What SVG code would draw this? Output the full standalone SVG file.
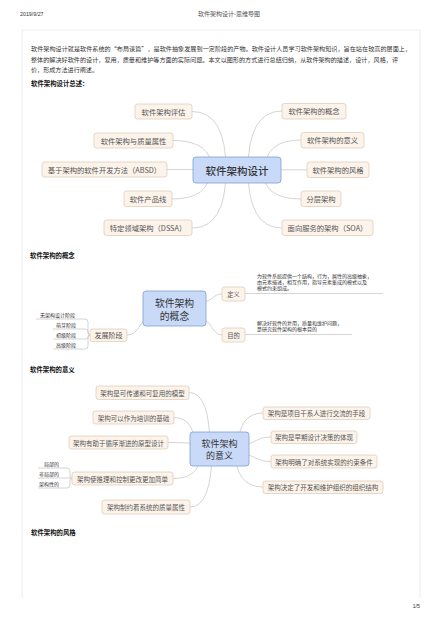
<svg xmlns="http://www.w3.org/2000/svg" width="440" height="620" viewBox="0 0 440 620">
<style>
text{font-family:"Noto Sans CJK SC","Noto Sans",sans-serif;}
.hdr{font-size:5.3px;fill:#333;font-family:"Liberation Sans","Noto Sans CJK SC",sans-serif;}
.ttl{font-size:6px;fill:#555;}
.para{font-size:6.1px;fill:#333;}
.h{font-size:6.4px;fill:#111;font-weight:bold;}
.node rect{fill:#fcf3ea;stroke:#dcc6b2;stroke-width:0.7;}
.node text{fill:#555;text-anchor:middle;dominant-baseline:central;}
.n1 text{font-size:7.3px;}
.n3 text{font-size:6.5px;}
.center rect{fill:#c9daf8;stroke:#7f9fd2;stroke-width:0.8;}
.center text{fill:#333;text-anchor:middle;dominant-baseline:central;}
.conn path{fill:none;stroke:#c9c9c9;stroke-width:0.8;}
.small{font-size:5px;fill:#333;}
.frame{fill:none;stroke:#e8e8e8;stroke-width:0.8;}
</style>

<!-- page header -->
<text class="hdr" x="20" y="16">2019/9/27</text>
<text class="ttl" x="229" y="16" text-anchor="middle">软件架构设计-思维导图</text>
<path class="frame" d="M22,598 V30 H420 V598"/>

<!-- intro -->
<text class="para" x="31" y="51" textLength="380" lengthAdjust="spacing">软件架构设计就是软件系统的“布局谋篇”，是软件抽象发展到一定阶段的产物。软件设计人员学习软件架构知识，旨在站在较高的层面上，</text>
<text class="para" x="31" y="61.5" textLength="367" lengthAdjust="spacing">整体的解决好软件的设计，复用，质量和维护等方面的实际问题。本文以图形的方式进行总结归纳，从软件架构的描述，设计，风格，评</text>
<text class="para" x="31" y="72">价，形成方法进行阐述。</text>
<text class="h" x="31" y="86">软件架构设计总述：</text>

<!-- ===== Map 1 connectors ===== -->
<g id="connectors" class="conn">
  <path d="M226,170 Q226,111.5 192,111.5"/>
  <path d="M212,170 Q212,140.5 173,140.5"/>
  <path d="M200,169.5 L167,169.5"/>
  <path d="M210,170 Q210,199 172,199"/>
  <path d="M226,170 Q226,228 192,228"/>
  <path d="M248,170 Q248,111 282,111"/>
  <path d="M265,170 Q265,140 301,140"/>
  <path d="M275,169.8 L307,169.8"/>
  <path d="M263,170 Q263,199 301,199"/>
  <path d="M248,170 Q248,228 282,228"/>

  <!-- Map 2 -->
  <path d="M200,302 C214,302 212,294 222,294"/>
  <path d="M245,293.5 L383,293.5"/>
  <path d="M200,318 C212,320 212,335 222,335"/>
  <path d="M245,334.5 L352,334.5"/>
  <path d="M150,318 C138,320 140,335 127,335"/>
  <path d="M36,319 H85 Q88,319 88,322 V332 Q88,335 90,335"/>
  <path d="M53,329 H85 Q88,329 88,332 Q88,335 90,335"/>
  <path d="M53,339 H85 Q88,339 88,337 Q88,335 90,335"/>
  <path d="M53,349 H85 Q88,349 88,346 V338 Q88,335 90,335"/>

  <!-- Map 3 -->
  <path d="M210,449 Q210,392.5 189,392.5"/>
  <path d="M195,449 Q195,417.5 174,417.5"/>
  <path d="M200,444 C190,443 180,442.5 168,442.5"/>
  <path d="M200,455 Q200,478.5 173,478.5"/>
  <path d="M212,449 Q212,507 190,507"/>
  <path d="M238,449 Q238,413 263,413"/>
  <path d="M240,445 C255,445 255,437 271,437"/>
  <path d="M240,454 C255,454 255,461.5 271,461.5"/>
  <path d="M235,449 Q235,487 263,487"/>
  <path d="M38,468 H67 Q70,468 70,471 V476 Q70,478.5 72,478.5"/>
  <path d="M38,478 H72"/>
  <path d="M38,488 H67 Q70,488 70,485 V481 Q70,478.5 72,478.5"/>
</g>

<!-- ===== Map 1 nodes ===== -->
<g id="map1-center" class="center"><rect x="193" y="157" width="88" height="26" rx="3"/><text x="237" y="170" style="font-size:10.5px;font-weight:500">软件架构设计</text></g>
<g id="n-pinggu" class="node n1"><rect x="135" y="104" width="57" height="15" rx="2.5"/><text x="163.5" y="111.5">软件架构评估</text></g>
<g id="n-zhiliang" class="node n1"><rect x="94" y="133" width="79" height="15" rx="2.5"/><text x="133.5" y="140.5">软件架构与质量属性</text></g>
<g id="n-absd" class="node n1"><rect x="42" y="162" width="125" height="15" rx="2.5"/><text x="104.5" y="169.5">基于架构的软件开发方法（ABSD）</text></g>
<g id="n-chanpin" class="node n1"><rect x="124" y="191" width="48" height="15.5" rx="2.5"/><text x="148" y="198.8">软件产品线</text></g>
<g id="n-dssa" class="node n1"><rect x="104" y="220" width="88" height="15.5" rx="2.5"/><text x="148" y="227.8">特定领域架构（DSSA）</text></g>
<g id="n-gainian" class="node n1"><rect x="282" y="103.5" width="64" height="15.5" rx="2.5"/><text x="314" y="111.2">软件架构的概念</text></g>
<g id="n-yiyi" class="node n1"><rect x="301" y="132.5" width="63" height="15.5" rx="2.5"/><text x="332.5" y="140.2">软件架构的意义</text></g>
<g id="n-fengge" class="node n1"><rect x="307" y="162" width="62" height="15.5" rx="2.5"/><text x="338" y="169.8">软件架构的风格</text></g>
<g id="n-fenceng" class="node n1"><rect x="301" y="191" width="40" height="15.5" rx="2.5"/><text x="321" y="198.8">分层架构</text></g>
<g id="n-soa" class="node n1"><rect x="282" y="220" width="91" height="15.5" rx="2.5"/><text x="327.5" y="227.8">面向服务的架构（SOA）</text></g>

<!-- ===== Map 2 ===== -->
<text class="h" x="30" y="258">软件架构的概念</text>
<g id="map2-center" class="center"><rect x="143" y="291" width="63" height="35" rx="3"/><text x="174.5" y="303" style="font-size:9.8px">软件架构</text><text x="174.5" y="315.5" style="font-size:9.8px">的概念</text></g>
<g id="n-dingyi" class="node"><rect x="222" y="287" width="23" height="14" rx="2.5"/><text x="233.5" y="294" style="font-size:6.3px">定义</text></g>
<g id="n-mudi" class="node"><rect x="222" y="328" width="23" height="14" rx="2.5"/><text x="233.5" y="335" style="font-size:6.3px">目的</text></g>
<g id="n-fazhan" class="node"><rect x="90" y="329" width="37" height="12.5" rx="2.5"/><text x="108.5" y="335.2" style="font-size:7px">发展阶段</text></g>
<g id="t-dingyi">
  <text class="small" x="257" y="277.5">为软件系统提供一个结构，行为，属性的高级抽象，</text>
  <text class="small" x="257" y="283.5">由元素描述，相互作用，指导元素集成的模式以及</text>
  <text class="small" x="257" y="289.5">模式约束组成。</text>
</g>
<g id="t-mudi">
  <text class="small" x="257" y="324.5">解决好软件的复用，质量和维护问题，</text>
  <text class="small" x="257" y="330.5">是研究软件架构的根本目的</text>
</g>
<g id="t-fazhan">
  <text class="small" x="40" y="317">无架构设计阶段</text>
  <text class="small" x="56" y="327">萌芽阶段</text>
  <text class="small" x="56" y="337">初级阶段</text>
  <text class="small" x="56" y="347">高级阶段</text>
</g>

<!-- ===== Map 3 ===== -->
<text class="h" x="30" y="372">软件架构的意义</text>
<g id="map3-center" class="center"><rect x="190" y="432" width="59" height="34" rx="3"/><text x="219.5" y="443.5" style="font-size:9px">软件架构</text><text x="219.5" y="455.5" style="font-size:9px">的意义</text></g>
<g id="n-moxing" class="node n3"><rect x="96" y="386" width="93" height="13.5" rx="2.5"/><text x="142.5" y="392.8">架构是可传递和可复用的模型</text></g>
<g id="n-peixun" class="node n3"><rect x="93" y="411" width="81" height="13" rx="2.5"/><text x="133.5" y="417.5">架构可以作为培训的基础</text></g>
<g id="n-yuanxing" class="node n3"><rect x="69" y="436" width="99" height="13" rx="2.5"/><text x="118.5" y="442.5">架构有助于循序渐进的原型设计</text></g>
<g id="n-tuili" class="node n3"><rect x="72" y="472" width="101" height="13" rx="2.5"/><text x="122.5" y="478.5">架构使推理和控制更改更加简单</text></g>
<g id="n-zhiyue" class="node n3"><rect x="102" y="500" width="88" height="14" rx="2.5"/><text x="146" y="507">架构制约着系统的质量属性</text></g>
<g id="n-jiaoliu" class="node n3"><rect x="263" y="407" width="107" height="12.5" rx="2.5"/><text x="316.5" y="413.2">架构是项目干系人进行交流的手段</text></g>
<g id="n-zaoqi" class="node n3"><rect x="271" y="431" width="86" height="12.5" rx="2.5"/><text x="314" y="437.2">架构是早期设计决策的体现</text></g>
<g id="n-yueshu" class="node n3"><rect x="271" y="455" width="106" height="13" rx="2.5"/><text x="324" y="461.5">架构明确了对系统实现的约束条件</text></g>
<g id="n-zuzhi" class="node n3"><rect x="263" y="481" width="120" height="12.5" rx="2.5"/><text x="323" y="487.2">架构决定了开发和维护组织的组织结构</text></g>
<g id="t-tuili">
  <text class="small" x="59" y="466" text-anchor="end">局部的</text>
  <text class="small" x="59" y="476" text-anchor="end">非局部的</text>
  <text class="small" x="59" y="486" text-anchor="end">架构性的</text>
</g>

<text class="h" x="31" y="535">软件架构的风格</text>
<text class="hdr" x="420" y="608" text-anchor="end">1/5</text>
</svg>
